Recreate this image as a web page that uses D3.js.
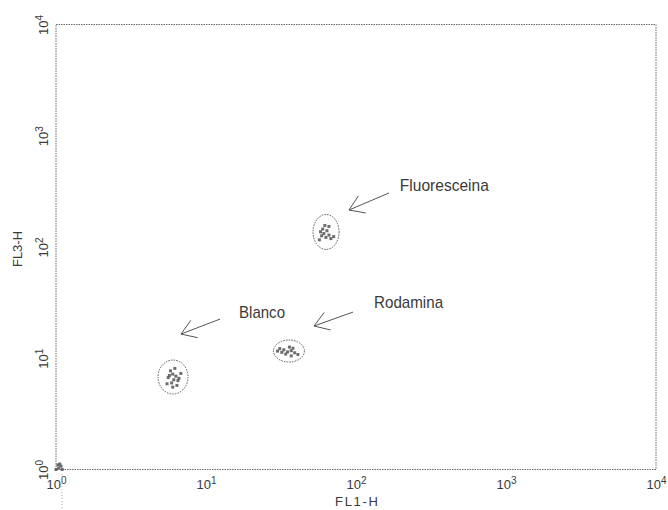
<!DOCTYPE html>
<html>
<head>
<meta charset="utf-8">
<script src="https://cdn.jsdelivr.net/npm/d3@7"></script>
<style>
body { margin: 0; background: #fff; }
svg text { font-family: "Liberation Sans", Arial, sans-serif; fill: #3a3a3a; }
</style>
</head>
<body>
<div id="chart"></div>
<script>
// tick values (both axes are 4-decade log scales)
var decades = [1, 10, 100, 1000, 10000];

// events, [FL1-H, FL3-H]
var originEvents = [[1, 1], [1.04, 1.03], [1.08, 1.07], [1.03, 1.1], [1.1, 1.0], [1.06, 1.12]];
var blancoEvents = [[5.8, 7.7], [6.0, 7.2], [6.3, 6.9], [5.6, 6.7], [6.1, 6.4], [6.6, 6.6], [5.9, 6.0],
    [6.4, 5.7], [5.5, 5.9], [6.8, 7.3], [6.2, 8.1], [5.7, 7.0], [6.5, 6.3], [6.0, 5.5]];
var rodaminaEvents = [[31, 12.2], [33, 11.9], [35, 11.4], [37, 11.7], [39, 11.2], [34, 10.9],
    [36, 12.6], [32, 11.3], [38, 12.3], [41, 10.8], [30, 11.6], [37, 10.5]];
var fluoresceinaEvents = [[62, 156], [66, 153], [60, 145], [58, 137], [61, 132], [64, 140],
    [59, 126], [63, 122], [68, 119], [71, 124], [57, 116], [66, 128]];

// gates drawn round each population
var gateNames = ['Blanco', 'Rodamina', 'Fluoresceina'];
var gateX = [[4.79, 7.59], [28.2, 45.3], [51.7, 77.1]];
var gateY = [[4.77, 9.64], [9.25, 14.6], [95, 196]];

// annotations: label anchor, arrow tail, arrow tip
var labelAt = [[16.6, 23.0], [132, 28.3], [196, 319]];
var arrowFrom = [[12.4, 22.5], [95.5, 26.0], [166, 306]];
var arrowTo = [[6.81, 16.5], [52.5, 19.5], [89.8, 215]];
var labelWidth = [46, 69, 89];

var margin = {top: 24.5, right: 12, bottom: 40.5, left: 56};
var svgWidth = 668, svgHeight = 510;
var width = svgWidth - margin.left - margin.right;
var height = svgHeight - margin.top - margin.bottom;

var svg = d3.select('#chart').append('svg')
    .attr('width', svgWidth)
    .attr('height', svgHeight);

var g = svg.append('g')
    .attr('transform', 'translate(' + margin.left + ',' + margin.top + ')');

var x = d3.scaleLog().domain([1, 10000]).range([0, width]);
var y = d3.scaleLog().domain([1, 10000]).range([height, 0]);

function powerLabel(sel) {
    sel.text(null);
    sel.append('tspan').text('10');
    sel.append('tspan').attr('dy', '-0.55em').attr('font-size', '10px').text(d => Math.round(Math.log10(d)));
}

// x axis
var xAxis = g.append('g')
    .attr('transform', 'translate(0,' + height + ')')
    .call(d3.axisBottom(x).tickValues(decades).tickSize(0));
xAxis.select('.domain').remove();
xAxis.selectAll('.tick text')
    .attr('y', 19.5).attr('dy', null)
    .attr('font-size', '13px')
    .call(powerLabel);

// y axis
var yAxis = g.append('g')
    .call(d3.axisLeft(y).tickValues(decades).tickSize(0));
yAxis.select('.domain').remove();
yAxis.selectAll('.tick text')
    .attr('x', 0).attr('dy', null)
    .attr('text-anchor', 'middle')
    .attr('transform', 'translate(-8,0) rotate(-90)')
    .attr('font-size', '13px')
    .call(powerLabel);

// frame
g.append('rect')
    .attr('width', width).attr('height', height)
    .attr('fill', 'none')
    .attr('stroke', '#6a6a6a')
    .attr('stroke-width', 1)
    .attr('stroke-dasharray', '1.5,1');

// axis titles
svg.append('text')
    .attr('x', 335).attr('y', 506)
    .attr('font-size', '13px')
    .attr('textLength', 43).attr('lengthAdjust', 'spacing')
    .text('FL1-H');
svg.append('text')
    .attr('transform', 'translate(22,249) rotate(-90)')
    .attr('text-anchor', 'middle')
    .attr('font-size', '13px')
    .text('FL3-H');

// stray scan mark below the origin
svg.append('line')
    .attr('x1', 62).attr('y1', 474).attr('x2', 62).attr('y2', 508)
    .attr('stroke', '#aaa').attr('stroke-dasharray', '1,2');

// events
var allEvents = originEvents.concat(blancoEvents, rodaminaEvents, fluoresceinaEvents);
g.selectAll('.event')
    .data(allEvents)
    .enter().append('rect')
    .attr('class', 'event')
    .attr('x', d => x(d[0]) - 1.5)
    .attr('y', d => y(d[1]) - 1.5)
    .attr('width', 3).attr('height', 3)
    .attr('fill', '#555')
    .attr('opacity', 0.85);

// gates
g.selectAll('.gate')
    .data(gateNames)
    .enter().append('ellipse')
    .attr('class', 'gate')
    .attr('cx', (d, i) => (x(gateX[i][0]) + x(gateX[i][1])) / 2)
    .attr('cy', (d, i) => (y(gateY[i][0]) + y(gateY[i][1])) / 2)
    .attr('rx', (d, i) => (x(gateX[i][1]) - x(gateX[i][0])) / 2)
    .attr('ry', (d, i) => (y(gateY[i][0]) - y(gateY[i][1])) / 2)
    .attr('fill', 'none')
    .attr('stroke', '#555')
    .attr('stroke-width', 1)
    .attr('stroke-dasharray', '1.5,1.2');

// arrows and labels
gateNames.forEach(function (name, i) {
    var x0 = x(arrowFrom[i][0]), y0 = y(arrowFrom[i][1]);
    var x1 = x(arrowTo[i][0]), y1 = y(arrowTo[i][1]);
    var a = Math.atan2(y0 - y1, x0 - x1);
    var len = 17, spread = 0.58;
    var path = 'M' + x0 + ',' + y0 + 'L' + x1 + ',' + y1 +
        'M' + (x1 + len * Math.cos(a - spread)) + ',' + (y1 + len * Math.sin(a - spread)) +
        'L' + x1 + ',' + y1 +
        'L' + (x1 + len * Math.cos(a + spread)) + ',' + (y1 + len * Math.sin(a + spread));
    g.append('path')
        .attr('d', path)
        .attr('fill', 'none')
        .attr('stroke', '#555')
        .attr('stroke-width', 1);

    g.append('text')
        .attr('x', x(labelAt[i][0]))
        .attr('y', y(labelAt[i][1]))
        .attr('font-size', '17px')
        .attr('textLength', labelWidth[i])
        .attr('lengthAdjust', 'spacingAndGlyphs')
        .text(name);
});
</script>
</body>
</html>
